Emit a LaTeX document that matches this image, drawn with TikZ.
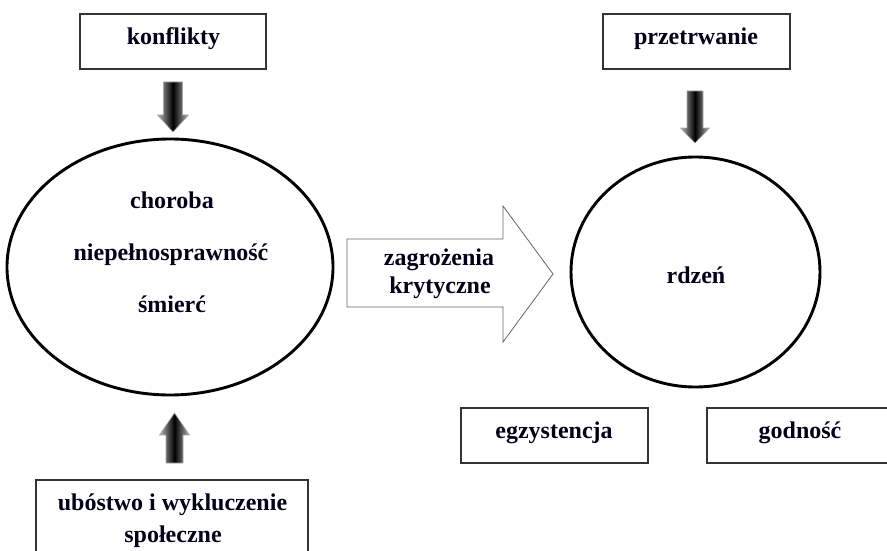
\documentclass[tikz,border=0pt]{standalone}
\usepackage{fontspec}
\setmainfont{Liberation Serif}
\usetikzlibrary{shapes.geometric}
\begin{document}
\begin{tikzpicture}[x=1pt,y=-1pt,
  txt/.style={font=\bfseries\fontsize{24}{28}\selectfont, inner sep=0pt, anchor=base, text=black!90!blue},
  box/.style={draw=black!80, line width=1.4pt, rectangle, inner sep=0pt},
  oval/.style={draw=black, line width=2.9pt, ellipse, inner sep=0pt},
  blk/.style={draw=gray!70, line width=0.6pt, left color=gray!55, right color=gray!55, middle color=black},
  bigarrow/.style={draw=gray!80!black, line width=0.8pt, fill=white}]
\useasboundingbox (0,0) rectangle (887,551);
% boxes
\node[box, minimum width=186pt, minimum height=55pt] (konf) at (173,41.5) {};
\node[box, minimum width=187pt, minimum height=55pt] (przet) at (696.5,41.5) {};
\node[box, minimum width=187pt, minimum height=55pt] (egz) at (554.5,435.5) {};
\node[box, minimum width=186pt, minimum height=55pt] (god) at (800,435.5) {};
\node[box, minimum width=272pt, minimum height=85pt] (ubo) at (172,522.5) {};
% ellipses
\node[oval, minimum width=326pt, minimum height=256pt] (left) at (170,267) {};
\node[oval, minimum width=249pt, minimum height=230pt] (core) at (695.5,272) {};
% big arrow
\draw[bigarrow] (347,239) -- (503,239) -- (503,206) -- (553,274) -- (503,342) -- (503,307) -- (347,307) -- cycle;
% block arrows
\draw[blk] (163.5,82) -- (182.5,82) -- (182.5,115) -- (188.5,115) -- (173,132) -- (157.5,115) -- (163.5,115) -- cycle;
\draw[blk] (166,463) -- (183,463) -- (183,435) -- (189.5,435) -- (174.5,413) -- (159.5,435) -- (166,435) -- cycle;
\draw[blk] (687,91) -- (703,91) -- (703,128) -- (709.5,128) -- (695,143) -- (680.5,128) -- (687,128) -- cycle;
% texts
\node[txt] (t1) at (173.5,45) {konflikty};
\node[txt] (t2) at (696,45) {przetrwanie};
\node[txt] (t3) at (172,208) {choroba};
\node[txt] (t4) at (171,260) {niepełnosprawność};
\node[txt] (t5) at (172,312) {śmierć};
\node[txt] (t6) at (439,265) {zagrożenia};
\node[txt] (t7) at (440,293) {krytyczne};
\node[txt] (t8) at (696,283) {rdzeń};
\node[txt] (t9) at (554,438) {egzystencja};
\node[txt] (t10) at (800,438) {godność};
\node[txt] (t11) at (172.5,510) {ubóstwo i wykluczenie};
\node[txt] (t12) at (173,542) {społeczne};
\end{tikzpicture}
\end{document}
